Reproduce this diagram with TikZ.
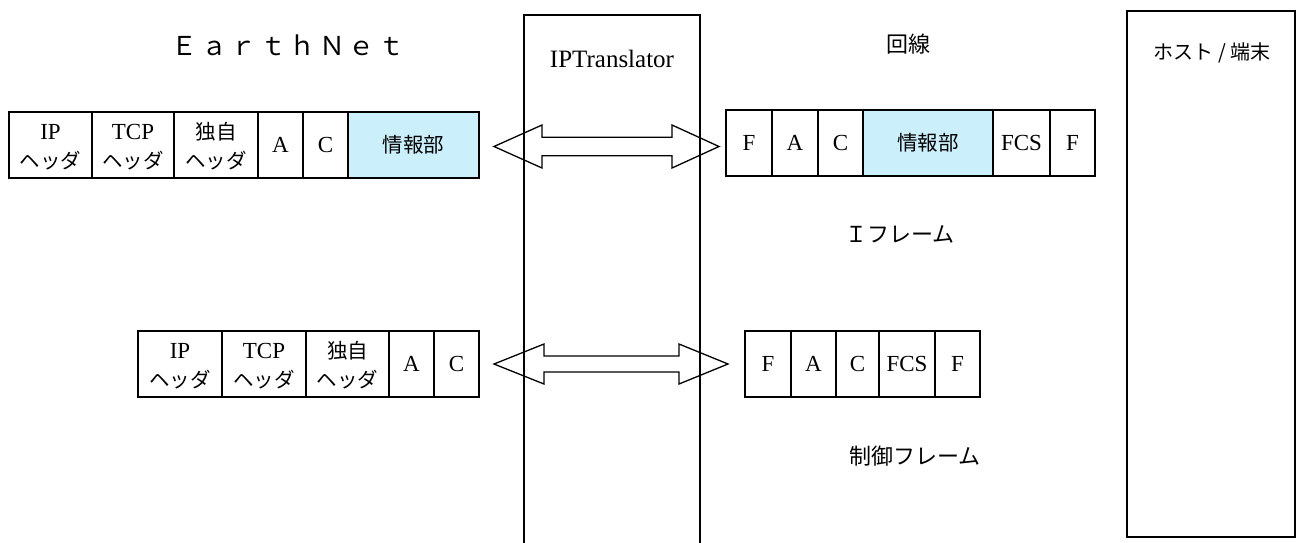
\documentclass[tikz,border=0pt]{standalone}
\usepackage{fontspec}
\setmainfont{Liberation Serif}
\newfontfamily\jp{Noto Sans CJK JP}
\newcommand\toprule{\rule{0pt}{20pt}}
\newcommand\jpc[1]{{\jp\fontsize{20.5}{29}\selectfont #1}}
\begin{document}
\begin{tikzpicture}[x=1pt,y=-1pt,
  cell/.style={draw, line width=1.3pt, inner sep=0pt, align=center,
    font=\fontsize{23}{29}\selectfont},
  info/.style={cell, fill=cyan!20},
  label/.style={inner sep=0pt, font=\jp\fontsize{22}{26}\selectfont},
  dbl/.style={draw, line width=1.3pt, line join=miter}
]
\useasboundingbox (0,0) rectangle (1305,542);

% big boxes
\draw[line width=1.3pt] (524,560) -- (524,15) -- (700,15) -- (700,560);
\node[draw, line width=1.3pt, minimum width=168pt, minimum height=526pt, inner sep=0pt] (host) at (1211,274) {};
\node[inner sep=0pt, font=\jp\fontsize{20}{24}\selectfont] (hostlbl) at (1212,53) {ホスト / 端末};
\node[inner sep=0pt, font=\fontsize{25}{28}\selectfont] (iptlbl) at (612,59) {IPTranslator};

% titles
\node[label, font=\jp\fontsize{26}{30}\selectfont] (earth) at (288,45)
  {Ｅ\hspace{3.5pt}ａ\hspace{3.5pt}ｒ\hspace{3.5pt}ｔ\hspace{3.5pt}ｈ\hspace{3.5pt}Ｎ\hspace{3.5pt}ｅ\hspace{3.5pt}ｔ};
\node[label] (line) at (908,44) {回線};
\node[label] (iframe) at (900,234) {Ｉフレーム};
\node[label] (cframe) at (915,456) {制御フレーム};

% top left row
\node[cell, minimum width=83pt, minimum height=66pt] (ip1) at (50.5,145) {\toprule IP\\\jpc{ヘッダ}};
\node[cell, minimum width=82pt, minimum height=66pt] (tcp1) at (133,145) {\toprule TCP\\\jpc{ヘッダ}};
\node[cell, minimum width=84pt, minimum height=66pt] (own1) at (216,145) {\toprule\jpc{独自}\\\jpc{ヘッダ}};
\node[cell, minimum width=45pt, minimum height=66pt] (a1) at (280.5,145) {A};
\node[cell, minimum width=45pt, minimum height=66pt] (c1) at (325.5,145) {C};
\node[info, minimum width=131pt, minimum height=66pt] (info1) at (413.5,145) {\jpc{情報部}};

% top right row
\node[cell, minimum width=46pt, minimum height=66pt] (f1) at (749,143) {F};
\node[cell, minimum width=46pt, minimum height=66pt] (a2) at (795,143) {A};
\node[cell, minimum width=45pt, minimum height=66pt] (c2) at (840.5,143) {C};
\node[info, minimum width=130pt, minimum height=66pt] (info2) at (928,143) {\jpc{情報部}};
\node[cell, minimum width=57pt, minimum height=66pt] (fcs1) at (1021.5,143) {FCS};
\node[cell, minimum width=45pt, minimum height=66pt] (f2) at (1072.5,143) {F};

% bottom left row
\node[cell, minimum width=84pt, minimum height=66pt] (ip2) at (180,364) {\toprule IP\\\jpc{ヘッダ}};
\node[cell, minimum width=84pt, minimum height=66pt] (tcp2) at (264,364) {\toprule TCP\\\jpc{ヘッダ}};
\node[cell, minimum width=83pt, minimum height=66pt] (own2) at (347.5,364) {\toprule\jpc{独自}\\\jpc{ヘッダ}};
\node[cell, minimum width=45pt, minimum height=66pt] (a3) at (411.5,364) {A};
\node[cell, minimum width=45pt, minimum height=66pt] (c3) at (456.5,364) {C};

% bottom right row
\node[cell, minimum width=46pt, minimum height=66pt] (f3) at (768,364) {F};
\node[cell, minimum width=45pt, minimum height=66pt] (a4) at (813.5,364) {A};
\node[cell, minimum width=43pt, minimum height=66pt] (c4) at (857.5,364) {C};
\node[cell, minimum width=56pt, minimum height=66pt] (fcs2) at (907,364) {FCS};
\node[cell, minimum width=45pt, minimum height=66pt] (f4) at (957.5,364) {F};

% double arrows
\coordinate (t1) at (494,146.5);
\draw[dbl] (t1) -- ++(48,-21.5) -- ++(0,12.25) -- ++(130,0) -- ++(0,-12.25)
  -- ++(47,21.5) -- ++(-47,21.5) -- ++(0,-12.25) -- ++(-130,0) -- ++(0,12.25) -- cycle;
\coordinate (t2) at (494,364);
\draw[dbl] (t2) -- ++(50,-20) -- ++(0,12) -- ++(135,0) -- ++(0,-12)
  -- ++(49,20) -- ++(-49,20) -- ++(0,-12) -- ++(-135,0) -- ++(0,12) -- cycle;
\end{tikzpicture}
\end{document}
